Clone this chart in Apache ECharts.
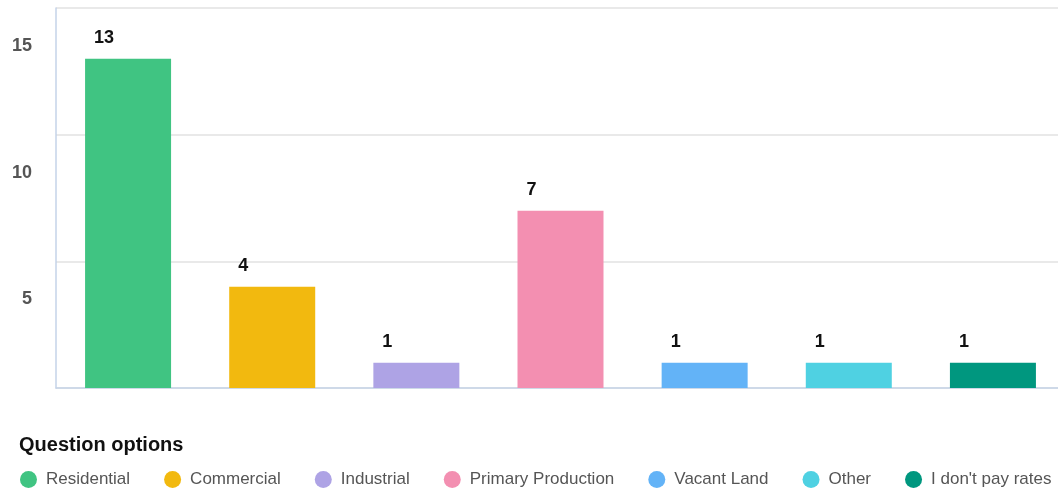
<!DOCTYPE html>
<html>
<head>
<meta charset="utf-8">
<script src="https://cdn.jsdelivr.net/npm/echarts@6/dist/echarts.min.js"></script>
<style>
  html, body { margin: 0; padding: 0; background: #fff; overflow: hidden; }
  #chart { width: 1065px; height: 491px; }
</style>
</head>
<body>
<div id="chart"></div>
<script>
// Responses per option
const categories = ['Residential', 'Commercial', 'Industrial', 'Primary Production', 'Vacant Land', 'Other', "I don't pay rates"];
const counts = [13, 4, 1, 7, 1, 1, 1];
const colors = ['#40c482', '#f2b90f', '#aea3e5', '#f38fb1', '#63b3f7', '#4fd1e2', '#00977f'];
const yTicks = [0, 5, 10, 15];

const FONT = '"Liberation Sans", Arial, sans-serif';

// One series per option so each gets its own legend entry; stacking keeps bars full width.
const series = categories.map((name, i) => ({
  name: name,
  type: 'bar',
  stack: 'all',
  barWidth: 86,
  itemStyle: { color: colors[i] },
  data: categories.map((_, j) => (j === i ? counts[i] : '-')),
  label: {
    show: true,
    position: [9, -20.5],
    align: 'left',
    verticalAlign: 'middle',
    fontFamily: FONT,
    fontSize: 18,
    fontWeight: 'bold',
    color: '#111'
  }
}));

const chart = echarts.init(document.getElementById('chart'), null, { renderer: 'canvas' });
chart.setOption({
  animation: false,
  title: {
    text: 'Question options',
    left: 14,
    top: 430,
    textStyle: { fontFamily: FONT, fontSize: 20, fontWeight: 'bold', color: '#111' }
  },
  legend: {
    left: 15,
    top: 466,
    icon: 'circle',
    itemWidth: 17,
    itemHeight: 17,
    itemGap: 34,
    data: categories,
    textStyle: { fontFamily: FONT, fontSize: 17, color: '#555', padding: [0, 0, 0, 4] }
  },
  grid: { left: 56, right: 0, top: 8, bottom: 103, containLabel: false },
  xAxis: {
    type: 'category',
    data: categories,
    axisLine: { lineStyle: { color: '#c5d3e8', width: 1.5 } },
    axisTick: { show: false },
    axisLabel: { show: false },
    splitLine: { show: false }
  },
  yAxis: {
    type: 'value',
    min: yTicks[0],
    max: yTicks[yTicks.length - 1],
    interval: yTicks[1] - yTicks[0],
    axisLine: { show: true, lineStyle: { color: '#c5d3e8', width: 1.5 } },
    axisTick: { show: false },
    splitLine: { lineStyle: { color: '#e2e2e2', width: 1.5 } },
    axisLabel: {
      showMinLabel: false,
      margin: 24,
      verticalAlign: 'top',
      padding: [29, 0, 0, 0],
      fontFamily: FONT,
      fontSize: 18,
      fontWeight: 'bold',
      color: '#555'
    }
  },
  series: series
});
</script>
</body>
</html>
